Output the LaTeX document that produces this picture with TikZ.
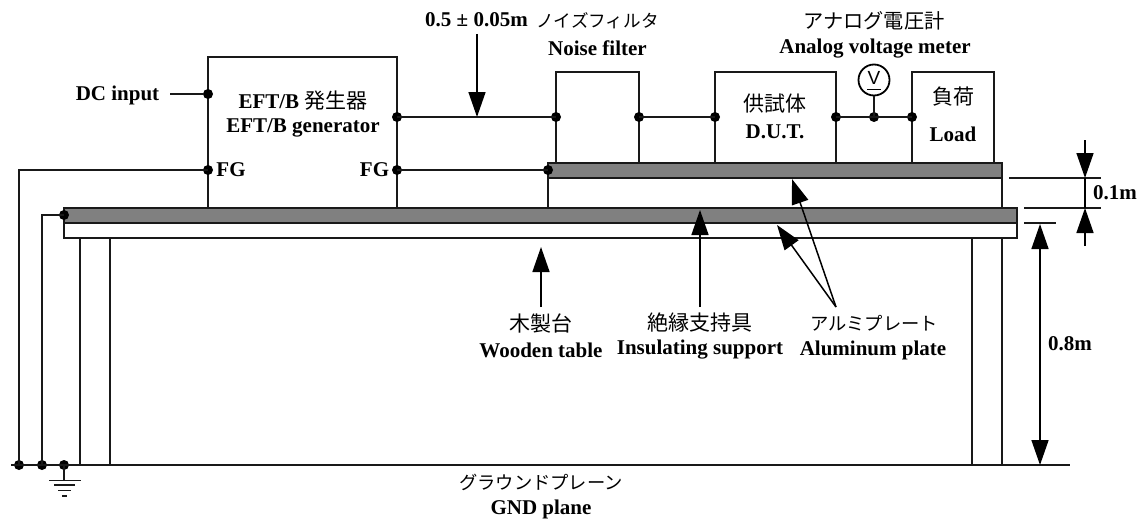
\documentclass[tikz,border=0pt]{standalone}
\usepackage{fontspec}
\setmainfont{Liberation Serif}
\newfontfamily\jpfont{Noto Sans CJK JP}
\newfontfamily\vfont{Liberation Sans}
\usetikzlibrary{arrows.meta}
\definecolor{plategray}{HTML}{808080}
\tikzset{
  x=1pt,y=-1pt,
  wire/.style={line width=1.8pt,draw=black!90},
  box/.style={draw=black!90,line width=1.8pt,fill=white,anchor=north west,inner sep=0pt,outer sep=0pt},
  plate/.style={draw=black!90,line width=1.8pt,fill=plategray},
  dot/.style={circle,fill=black,inner sep=0pt,minimum size=10pt},
  arrowline/.style={line width=1.5pt,draw=black,-{Triangle[length=25pt,width=17pt]},shorten >=0pt},
  en/.style={font=\fontsize{21}{24}\selectfont\bfseries,inner sep=0pt},
  jp/.style={font=\fontsize{21}{24}\selectfont\jpfont,inner sep=0pt},
  jpa/.style={jp,font=\fontsize{17.6}{24}\selectfont\jpfont},
  jpb/.style={jp,font=\fontsize{20.2}{24}\selectfont\jpfont},
  jpc/.style={jp,font=\fontsize{18.3}{24}\selectfont\jpfont},
}
\begin{document}
\begin{tikzpicture}
\useasboundingbox (0,0) rectangle (1142,519);
% table and supports
\node[box,minimum width=30pt,minimum height=227pt] (legL) at (80,238) {};
\node[box,minimum width=30pt,minimum height=227pt] (legR) at (972,238) {};
\node[box,minimum width=953pt,minimum height=15pt] (table) at (64,223) {};
\node[box,minimum width=454pt,minimum height=30pt] (support) at (548,178) {};
% devices
\node[box,minimum width=189pt,minimum height=151pt] (eft) at (208,57) {};
\node[box,minimum width=83pt,minimum height=91pt] (filter) at (556,72) {};
\node[box,minimum width=121pt,minimum height=91pt] (dut) at (715,72) {};
\node[box,minimum width=82pt,minimum height=91pt] (load) at (912,72) {};
% aluminium plates
\node[box,plate,minimum width=953pt,minimum height=15pt] (lowplate) at (64,208) {};
\node[box,plate,minimum width=454pt,minimum height=15pt] (upplate) at (548,163) {};
% junctions
\coordinate (dcfree) at (170,94);
\node[dot] (dc) at (208,94) {};
\node[dot] (fgl) at (208,170) {};
\node[dot] (out) at (397,117) {};
\node[dot] (fgr) at (397,170) {};
\node[dot] (fin) at (556,117) {};
\node[dot] (fout) at (639,117) {};
\node[dot] (upfg) at (548,170) {};
\node[dot] (dutin) at (715,117) {};
\node[dot] (dutout) at (836,117) {};
\node[dot] (vm) at (874,117) {};
\node[dot] (loadin) at (912,117) {};
\node[dot] (platefg) at (64,215) {};
\node[dot] (g1) at (19,465) {};
\node[dot] (g2) at (42,465) {};
\node[dot] (g3) at (64,465) {};
\coordinate (gndl) at (11,465);
\coordinate (gndr) at (1070,465);
\coordinate (earth) at (64,480);
% wires
\draw[wire] (dcfree) -- (dc);
\draw[wire] (fgl.center) -| (g1.center);
\draw[wire] (platefg.center) -| (g2.center);
\draw[wire] (out.center) -- (fin.center);
\draw[wire] (fgr.center) -- (upfg.center);
\draw[wire] (fout.center) -- (dutin.center);
\draw[wire] (dutout.center) -- (loadin.center);
\draw[wire] (gndl) -- (gndr);
\draw[wire] (g3.center) -- (earth);
\draw[wire] (49,480.5) -- (81,480.5);
\draw[wire] (54,485) -- (75,485);
\draw[wire] (58,490.5) -- (71,490.5);
\draw[wire] (62,496) -- (67,496);
% voltmeter
\node[circle,draw=black,line width=1.8pt,fill=white,minimum size=31pt,inner sep=0pt] (vmeter) at (874,80) {};
\node[font=\fontsize{19}{20}\selectfont\vfont,inner sep=0pt] (vlabel) at (874,78) {V};
\draw[line width=1.4pt] (867,89.5) -- (881,89.5);
\draw[wire] (vmeter) -- (vm.center);
% dimension lines
\coordinate (a) at (1009,178); \coordinate (a2) at (1101,178);
\coordinate (b) at (1024,208); \coordinate (b2) at (1101,208);
\coordinate (c) at (1024,223); \coordinate (c2) at (1056,223);
\draw[wire,line width=1.3pt] (a) -- (a2);
\draw[wire,line width=1.3pt] (b) -- (b2);
\draw[wire,line width=1.3pt] (c) -- (c2);
\coordinate (t1) at (1085,140); \coordinate (t1e) at (1085,178);
\coordinate (t2) at (1085,246); \coordinate (t2e) at (1085,208);
\draw[arrowline] (t1) -- (t1e);
\draw[arrowline] (t2) -- (t2e);
\draw[line width=1.3pt] (t1e) -- (t2e);
\coordinate (m1a) at (1040,224); \coordinate (m1b) at (1040,465);
\draw[arrowline,{Triangle[length=25pt,width=17pt]}-{Triangle[length=25pt,width=17pt]}] (m1a) -- (m1b);
% leader arrows
\coordinate (lenfree) at (477,34); \coordinate (lentip) at (477,117);
\draw[arrowline] (lenfree) -- (lentip);
\coordinate (wfree) at (541,307); \coordinate (wtip) at (541,247);
\draw[arrowline] (wfree) -- (wtip);
\coordinate (ifree) at (700,307); \coordinate (itip) at (700,210);
\draw[arrowline] (ifree) -- (itip);
\coordinate (afree) at (836,307); \coordinate (atip1) at (792,179); \coordinate (atip2) at (777,225);
\draw[arrowline] (afree) -- (atip1);
\draw[arrowline] (afree) -- (atip2);
% labels
\node[en] (tdc) at (117.5,95) {DC input};
\node[en] at (303,101) {EFT/B {\jpfont\fontseries{m}\selectfont 発生器}};
\node[en] at (303,128) {EFT/B generator};
\node[en] at (231,170) {FG};
\node[en] at (374.5,170) {FG};
\node[en] at (476.5,20) {0.5 ± 0.05m};
\node[jpa] at (597.5,21) {ノイズフィルタ};
\node[en] at (597.5,48) {Noise filter};
\node[jpb] at (874,21) {アナログ電圧計};
\node[en] at (875,49) {Analog voltage meter};
\node[jp] at (775,104) {供試体};
\node[en] at (775,132) {D.U.T.};
\node[jp] at (953,97) {負荷};
\node[en] at (953,134) {Load};
\node[en] at (1115,193) {0.1m};
\node[en] at (1070,344) {0.8m};
\node[jp] at (541,323) {木製台};
\node[en] at (541,350) {Wooden table};
\node[jp] at (700,323) {絶縁支持具};
\node[en] at (700,350) {Insulating support};
\node[jpc] at (874,323) {アルミプレート};
\node[en] at (873,350) {Aluminum plate};
\node[jpc] at (541,482) {グラウンドプレーン};
\node[en] at (541,509) {GND plane};
\end{tikzpicture}
\end{document}
